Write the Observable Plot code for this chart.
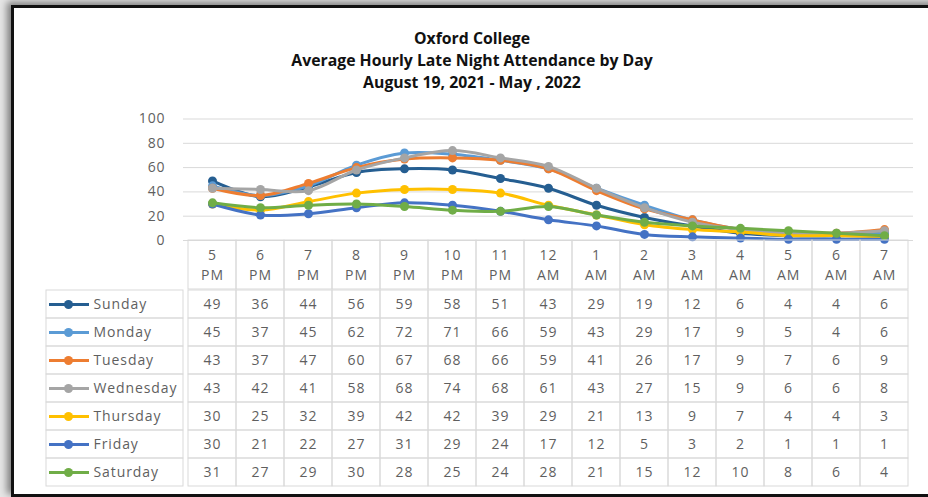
<!DOCTYPE html>
<html><head><meta charset="utf-8">
<script src="https://cdn.jsdelivr.net/npm/d3@7"></script>
<script src="https://cdn.jsdelivr.net/npm/@observablehq/plot@0.6"></script>
<style>
html,body{margin:0;padding:0;background:#e6e6e6;}
body{width:928px;height:497px;overflow:hidden;position:relative;font-family:"Open Sans",sans-serif;}
#frame{position:absolute;left:11px;top:5px;width:930px;height:486px;border-left:3px solid #111;border-top:3px solid #111;border-bottom:3px solid #111;background:#fff;box-shadow:-4px -3px 7px rgba(0,0,0,.45);}
.abs{position:absolute;}
#title{left:14px;top:27px;width:916px;text-align:center;font-weight:700;font-size:15.8px;line-height:22px;color:#111;}
svg{overflow:visible;}
</style></head>
<body>
<div id="frame"></div>
<div id="title" class="abs">Oxford College<br>Average Hourly Late Night Attendance by Day<br>August 19, 2021 - May , 2022</div>
<div id="chart" class="abs" style="left:0;top:95px"></div>
<div id="header" class="abs" style="left:0;top:240px"></div>
<div id="body" class="abs" style="left:0;top:289px"></div>
<div id="legend" class="abs" style="left:46px;top:289px"></div>
<script>
const hours = ["5 PM","6 PM","7 PM","8 PM","9 PM","10 PM","11 PM","12 AM","1 AM","2 AM","3 AM","4 AM","5 AM","6 AM","7 AM"];
const days = ["Sunday","Monday","Tuesday","Wednesday","Thursday","Friday","Saturday"];
const colors = ["#255E91","#5B9BD5","#ED7D31","#A5A5A5","#FFC000","#4472C4","#70AD47"];
const yTicks = [0,20,40,60,80,100];
const sunday    = [49,36,44,56,59,58,51,43,29,19,12,6,4,4,6];
const monday    = [45,37,45,62,72,71,66,59,43,29,17,9,5,4,6];
const tuesday   = [43,37,47,60,67,68,66,59,41,26,17,9,7,6,9];
const wednesday = [43,42,41,58,68,74,68,61,43,27,15,9,6,6,8];
const thursday  = [30,25,32,39,42,42,39,29,21,13,9,7,4,4,3];
const friday    = [30,21,22,27,31,29,24,17,12,5,3,2,1,1,1];
const saturday  = [31,27,29,30,28,25,24,28,21,15,12,10,8,6,4];
const series = [sunday,monday,tuesday,wednesday,thursday,friday,saturday];

const rows = days.flatMap((day,i)=>hours.map((hour,j)=>({day,hour,value:series[i][j]})));
const color = {domain:days, range:colors};
const textStyle = {fontFamily:"'Open Sans',sans-serif", fontSize:"14px", letterSpacing:"0.9px", background:"transparent", overflow:"visible"};
const grey = "#5f5f5f", border = "#d9d9d9";

const chart = Plot.plot({
  width:928, height:155, marginLeft:183, marginRight:15, marginTop:23.5, marginBottom:10,
  x:{type:"point", domain:hours, padding:0.5, axis:null},
  y:{domain:[0,100], axis:null},
  color, style:textStyle,
  marks:[
    Plot.gridY(yTicks, {stroke:border, strokeOpacity:1}),
    Plot.axisY(yTicks, {tickSize:0, tickPadding:18, fill:grey, fontSize:14, label:null}),
    ...days.flatMap(day=>{
      const d = rows.filter(r=>r.day===day);
      return [
        Plot.line(d, {x:"hour", y:"value", stroke:"day", strokeWidth:3, curve:"catmull-rom"}),
        Plot.dot(d, {x:"hour", y:"value", fill:"day", r:4.5})
      ];
    })
  ]
});
document.getElementById("chart").append(chart);

const header = Plot.plot({
  width:928, height:49, marginLeft:183, marginRight:15, marginTop:0, marginBottom:0,
  x:{type:"band", domain:hours, padding:0, axis:null},
  y:{type:"band", domain:["h"], padding:0, axis:null},
  style:textStyle,
  marks:[
    Plot.cell(hours, {x:d=>d, y:()=>"h", fill:"none", stroke:border}),
    Plot.text(hours, {x:d=>d, frameAnchor:"top", lineAnchor:"middle", dy:15, text:d=>d.split(" ")[0], fill:grey, fontSize:14}),
    Plot.text(hours, {x:d=>d, frameAnchor:"top", lineAnchor:"middle", dy:35, text:d=>d.split(" ")[1], fill:grey, fontSize:14})
  ]
});
document.getElementById("header").append(header);

const body = Plot.plot({
  width:928, height:198, marginLeft:183, marginRight:15, marginTop:0, marginBottom:0,
  x:{type:"band", domain:hours, padding:0, axis:null},
  y:{type:"band", domain:days, padding:0, axis:null},
  style:textStyle,
  marks:[
    Plot.cell(rows, {x:"hour", y:"day", fill:"none", stroke:border}),
    Plot.text(rows, {x:"hour", y:"day", text:d=>String(d.value), fill:grey, fontSize:14})
  ]
});
document.getElementById("body").append(body);

const legend = Plot.plot({
  width:137, height:198, marginLeft:0, marginRight:0, marginTop:0, marginBottom:0,
  x:{domain:[0,137], axis:null},
  y:{type:"band", domain:days, padding:0, axis:null},
  color, style:textStyle,
  marks:[
    Plot.barX(days, {y:d=>d, x1:0, x2:137, fill:"none", stroke:border}),
    Plot.ruleY(days, {y:d=>d, x1:3, x2:43, stroke:d=>d, strokeWidth:3}),
    Plot.dot(days, {y:d=>d, x:22, fill:d=>d, r:4.5}),
    Plot.text(days, {y:d=>d, x:47, text:d=>d, textAnchor:"start", fill:grey, fontSize:14})
  ]
});
document.getElementById("legend").append(legend);
</script>
</body></html>
